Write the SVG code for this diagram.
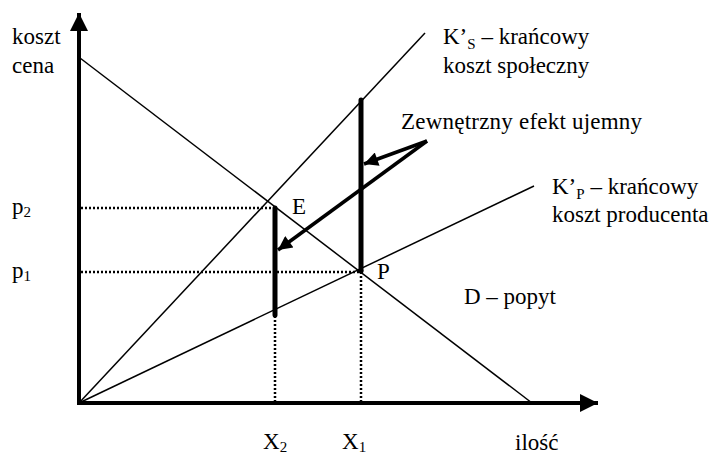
<svg xmlns="http://www.w3.org/2000/svg" width="715" height="454" viewBox="0 0 715 454">
<defs>
<marker id="ah" viewBox="0 0 10 10" refX="10" refY="5" markerWidth="5" markerHeight="4" orient="auto" markerUnits="strokeWidth"><path d="M0,0 L10,5 L0,10 z" fill="#000"/></marker>
<marker id="axh" viewBox="0 0 10 10" refX="10" refY="5" markerWidth="4.5" markerHeight="4.5" orient="auto" markerUnits="strokeWidth"><path d="M0,0 L10,5 L0,10 z" fill="#000"/></marker>
</defs>
<style>
text{font-family:'Liberation Serif','Times New Roman',serif;font-size:23px;fill:#000}
.sub{font-size:15px}
.thin{stroke:#000;stroke-width:1.5;fill:none}
.dot{stroke:#000;stroke-width:2.5;stroke-dasharray:2 2;fill:none}
.bar{stroke:#000;stroke-width:5;fill:none;stroke-linecap:round}
.arr{stroke:#000;stroke-width:3.5;fill:none}
</style>
<rect width="715" height="454" fill="#fff"/>
<g id="connectors">
<line id="yaxis" x1="79" y1="405" x2="79" y2="13" stroke="#000" stroke-width="4" marker-end="url(#axh)"/>
<line id="xaxis" x1="77" y1="403" x2="598" y2="403" stroke="#000" stroke-width="4" marker-end="url(#axh)"/>
<line class="thin" x1="80" y1="58" x2="532" y2="403"/>
<line class="thin" x1="79" y1="403" x2="425" y2="33"/>
<line class="thin" x1="79" y1="403" x2="534" y2="186"/>
<line class="dot" x1="81" y1="208" x2="273" y2="208"/>
<line class="dot" x1="81" y1="272" x2="361" y2="272"/>
<line class="dot" x1="275" y1="316" x2="275" y2="401"/>
<line class="dot" x1="361" y1="272" x2="361" y2="401"/>
<line class="bar" x1="275" y1="208" x2="275" y2="315"/>
<line class="bar" x1="361" y1="100" x2="361" y2="270"/>
<circle cx="361" cy="271" r="2.5" fill="#000"/>
<line class="arr" x1="427" y1="141" x2="278" y2="250" marker-end="url(#ah)"/>
<line class="arr" x1="427" y1="141" x2="364" y2="164" marker-end="url(#ah)"/>
</g>
<g id="label-koszt"><text x="12" y="44">koszt</text><text x="12" y="73">cena</text></g>
<g id="label-ks"><text x="443" y="44">K’<tspan class="sub" dy="5">S</tspan><tspan dy="-5"> – krańcowy</tspan></text><text x="443" y="73">koszt społeczny</text></g>
<g id="label-zew"><text x="401" y="129" textLength="241" lengthAdjust="spacing">Zewnętrzny efekt ujemny</text></g>
<g id="label-kp"><text x="552" y="194">K’<tspan class="sub" dy="5">P</tspan><tspan dy="-5"> – krańcowy</tspan></text><text x="552" y="222">koszt producenta</text></g>
<g id="label-p2"><text x="12" y="214">p<tspan class="sub" dy="3">2</tspan></text></g>
<g id="label-p1"><text x="12" y="278">p<tspan class="sub" dy="3">1</tspan></text></g>
<g id="label-E"><text x="292" y="214">E</text></g>
<g id="label-P"><text x="377" y="279">P</text></g>
<g id="label-D"><text x="464" y="304">D – popyt</text></g>
<g id="label-x2"><text x="263" y="449">X<tspan class="sub" dy="3">2</tspan></text></g>
<g id="label-x1"><text x="342" y="449">X<tspan class="sub" dy="3">1</tspan></text></g>
<g id="label-ilosc"><text x="515" y="450">ilość</text></g>
</svg>
